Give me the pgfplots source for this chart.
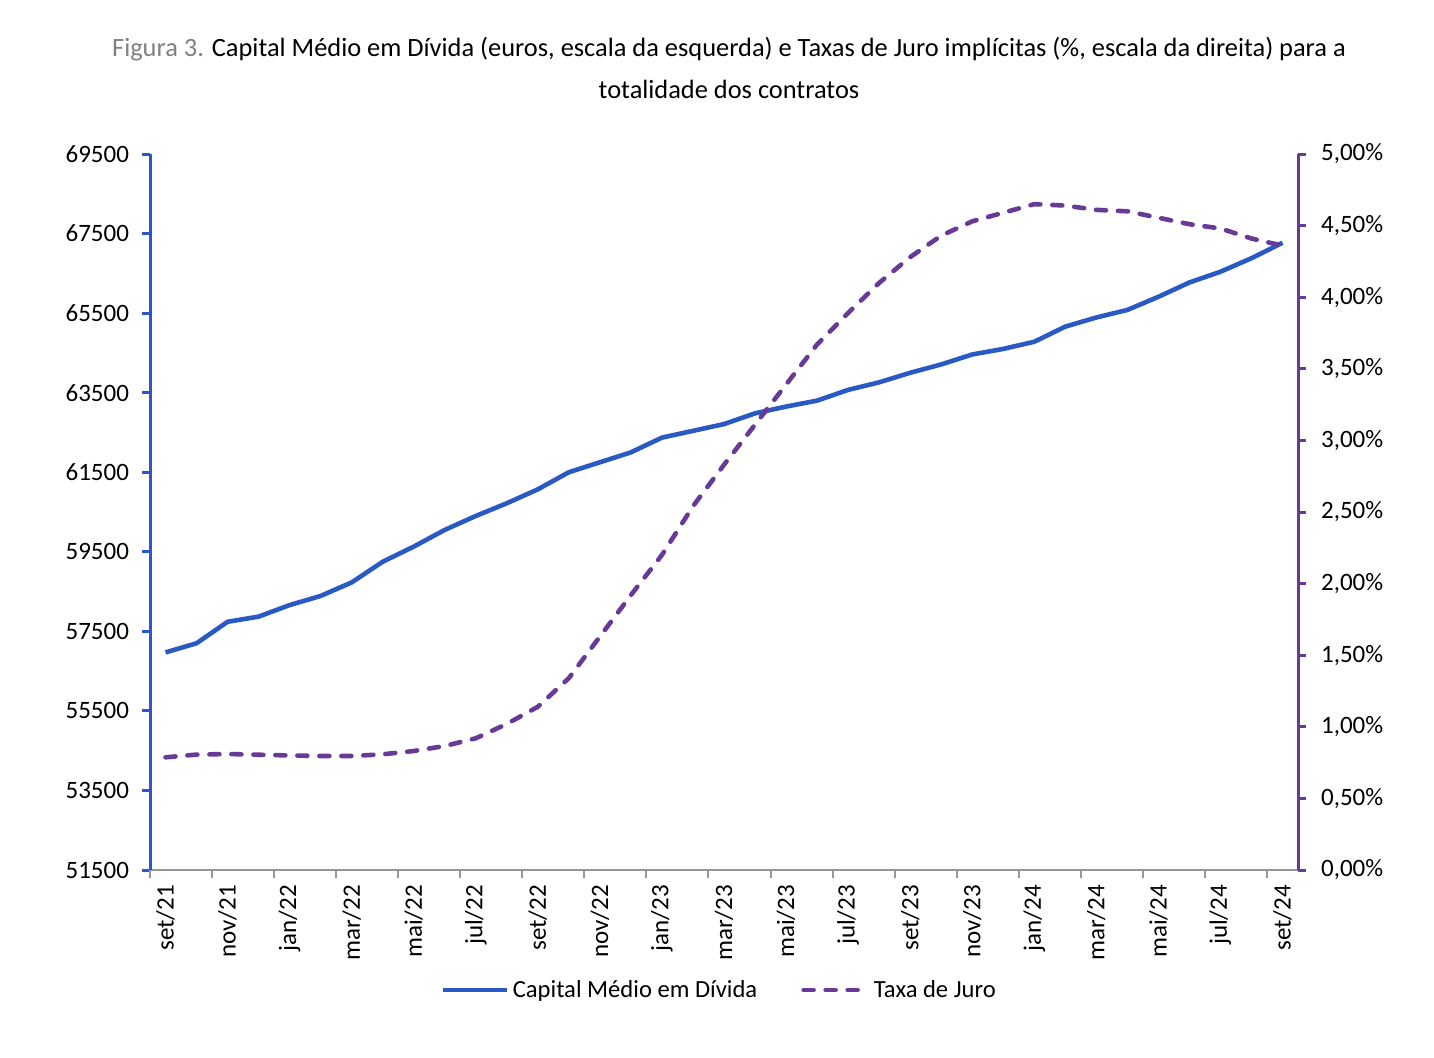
\documentclass[border=0pt]{standalone}
\usepackage{pgfplots}
\pgfplotsset{compat=1.18}
\usepackage{fontspec}
\setmainfont{Carlito}
\definecolor{cblue}{RGB}{41,90,196}
\definecolor{cpurple}{RGB}{104,58,152}
\definecolor{cgray}{RGB}{128,128,128}
\definecolor{caxis}{RGB}{150,150,150}
\begin{document}
\begin{tikzpicture}
\path[use as bounding box] (0pt,0pt) rectangle (717pt,528.5pt);
\node[align=center, font=\fontsize{13.2}{21}\selectfont, inner sep=0pt] at (364.5pt,494.5pt)
 {\textcolor{cgray}{Figura 3.} Capital Médio em Dívida (euros, escala da esquerda) e Taxas de Juro implícitas (\%, escala da direita) para a\\totalidade dos contratos};
\begin{axis}[
  at={(75pt,93.5pt)}, anchor=south west, scale only axis,
  width=574pt, height=358pt,
  xmin=-0.5, xmax=36.5, ymin=51500, ymax=69500,
  axis y line*=left, axis x line*=bottom,
  x axis line style={caxis, line width=1pt, -},
  y axis line style={cblue, line width=1.5pt, -},
  scaled y ticks=false,
  ytick={51500,53500,...,69500},
  yticklabels={51500,53500,55500,57500,59500,61500,63500,65500,67500,69500},
  ytick style={cblue, line width=1.5pt},
  tick align=outside, major tick length=4pt,
  xtick={0,2,...,36},
  xticklabels={set/21,nov/21,jan/22,mar/22,mai/22,jul/22,set/22,nov/22,jan/23,mar/23,mai/23,jul/23,set/23,nov/23,jan/24,mar/24,mai/24,jul/24,set/24},
  xtick style={draw=none},
  x tick label style={rotate=90, anchor=east, font=\fontsize{12.5}{14}\selectfont},
  y tick label style={font=\fontsize{12.5}{14}\selectfont, xshift=-3pt},
  extra x ticks={-0.5,1.5,...,36.5},
  extra x tick labels={},
  extra x tick style={xtick style={draw=caxis, line width=1pt}, major tick length=4pt, tick align=outside},
  clip=false,
]
\addplot[cblue, line width=2.3pt, line join=round] coordinates {
(0,56970)(1,57200)(2,57740)(3,57870)(4,58160)(5,58390)(6,58730)(7,59250)(8,59630)(9,60050)
(10,60400)(11,60720)(12,61070)(13,61500)(14,61750)(15,62000)(16,62370)(17,62540)(18,62710)(19,62980)
(20,63150)(21,63300)(22,63570)(23,63760)(24,64000)(25,64210)(26,64460)(27,64600)(28,64780)(29,65160)
(30,65390)(31,65580)(32,65910)(33,66270)(34,66540)(35,66880)(36,67270)};
\end{axis}
\begin{axis}[
  at={(75pt,93.5pt)}, anchor=south west, scale only axis,
  width=574pt, height=358pt,
  xmin=-0.5, xmax=36.5, ymin=0, ymax=5,
  axis y line*=right, axis x line=none,
  y axis line style={cpurple, line width=1.5pt, -},
  ytick={0,0.5,...,5},
  yticklabels={{0,00\%},{0,50\%},{1,00\%},{1,50\%},{2,00\%},{2,50\%},{3,00\%},{3,50\%},{4,00\%},{4,50\%},{5,00\%}},
  ytick style={cpurple, line width=1.5pt},
  tick align=outside, major tick length=4pt,
  y tick label style={font=\fontsize{12.5}{14}\selectfont, xshift=4pt},
  legend style={at={(0.4965,-0.1676)}, anchor=center, draw=none, fill=none,
    legend columns=2, font=\fontsize{12.3}{14}\selectfont,
    /tikz/every even column/.append style={column sep=20pt}},
  legend image code/.code={\draw[#1] (0pt,0pt) -- (32pt,0pt);},
  clip=false,
]
\addlegendimage{cblue, line width=2.3pt}
\addlegendentry{Capital Médio em Dívida}
\addplot[cpurple, line width=2.3pt, dash pattern=on 5pt off 6pt, line cap=round] coordinates {
(0,0.787)(1,0.806)(2,0.81)(3,0.805)(4,0.80)(5,0.796)(6,0.796)(7,0.808)(8,0.831)(9,0.866)
(10,0.92)(11,1.02)(12,1.14)(13,1.34)(14,1.63)(15,1.92)(16,2.20)(17,2.54)(18,2.83)(19,3.11)
(20,3.39)(21,3.67)(22,3.89)(23,4.10)(24,4.28)(25,4.43)(26,4.53)(27,4.59)(28,4.65)(29,4.64)
(30,4.61)(31,4.60)(32,4.555)(33,4.51)(34,4.48)(35,4.41)(36,4.36)};
\addlegendentry{Taxa de Juro}
\end{axis}
\end{tikzpicture}
\end{document}
